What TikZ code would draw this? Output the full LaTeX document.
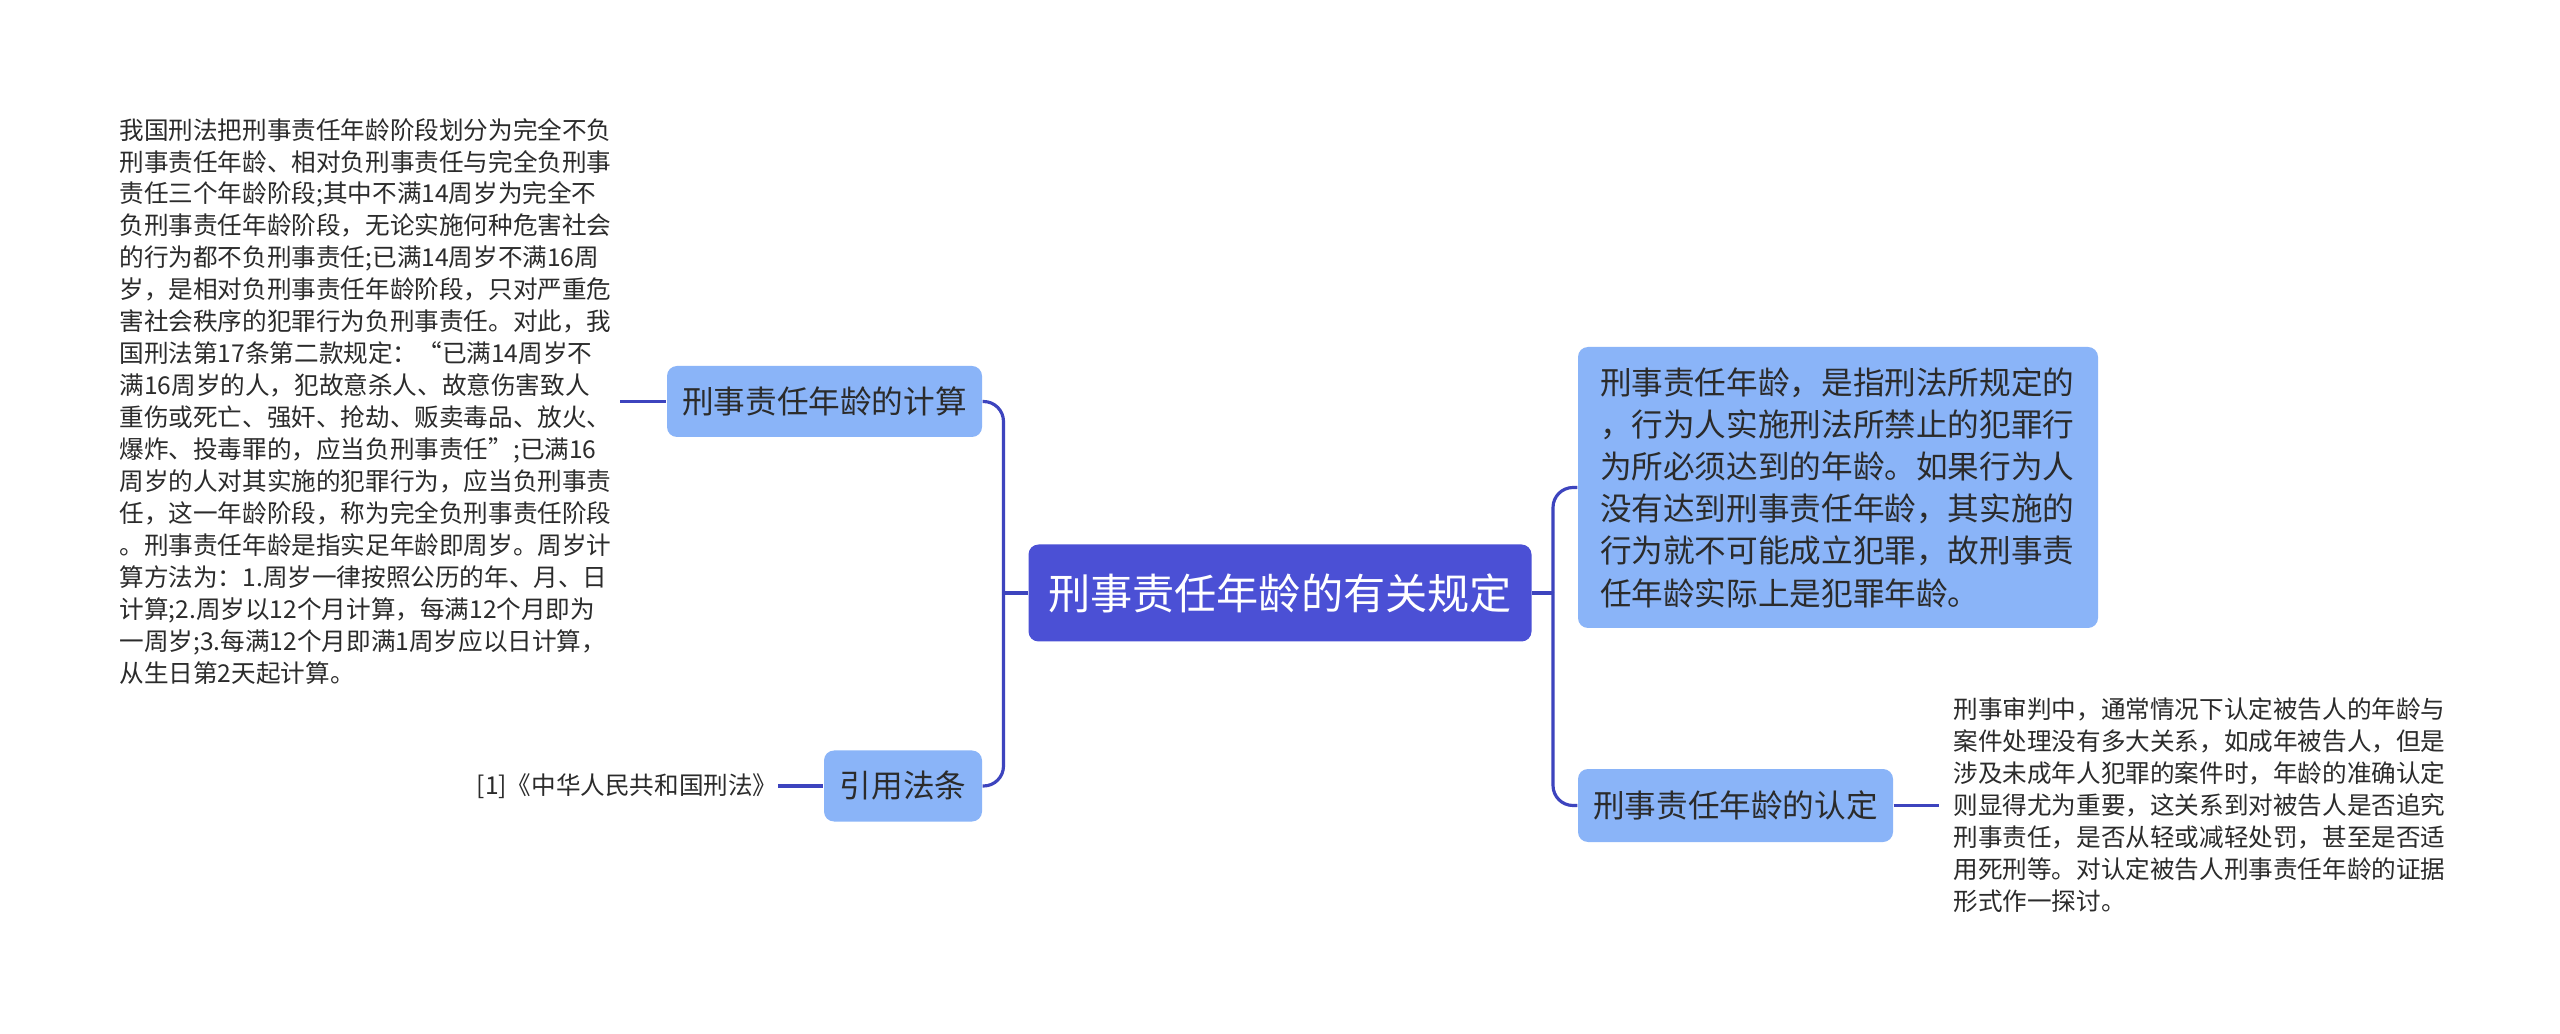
\documentclass[tikz,border=0pt]{standalone}
\usepackage{fontspec}
\setmainfont{Noto Sans CJK SC}
\usepackage{xcolor}
\usetikzlibrary{positioning}
\definecolor{rootblue}{HTML}{4B50D5}
\definecolor{subblue}{HTML}{8AB4F8}
\definecolor{linkblue}{HTML}{3D44BE}
\definecolor{txt}{HTML}{2B2B2B}

\begin{document}
\begin{tikzpicture}[
  rootbox/.style={fill=rootblue, text=white, rounded corners=0.1cm, font=\fontsize{12pt}{14pt}\selectfont, minimum width=5.03cm, minimum height=0.97cm, inner sep=0pt},
  subbox/.style={fill=subblue, text=txt, rounded corners=0.1cm, font=\fontsize{9pt}{12pt}\selectfont, minimum height=0.71cm, inner sep=0pt},
  note/.style={text=txt, align=left, font=\fontsize{7pt}{9.1pt}\selectfont, inner sep=0pt},
  link/.style={draw=linkblue, line width=0.9pt, rounded corners=0.2cm},
  node distance=0.45cm]
		\fill[white] (0,0) rectangle (25.6,10.33);
		\useasboundingbox (0,0) rectangle (25.6,10.33);
		% centre and the four branches
		\node[rootbox] (root) at (12.80,4.40) {刑事责任年龄的有关规定};
		\node[subbox, minimum width=3.15cm] (calc) at (8.245,6.315) {刑事责任年龄的计算};
		\node[subbox, minimum width=1.58cm] (cite) at (9.03,2.47) {引用法条};
		\node[subbox, align=left, text width=4.76cm, minimum width=5.20cm, minimum height=2.81cm, inner xsep=0.22cm] (def) at (18.38,5.455) {刑事责任年龄，是指刑法所规定的\\，行为人实施刑法所禁止的犯罪行\\为所必须达到的年龄。如果行为人\\没有达到刑事责任年龄，其实施的\\行为就不可能成立犯罪，故刑事责\\任年龄实际上是犯罪年龄。};
		\node[subbox, minimum width=3.15cm, minimum height=0.73cm] (ident) at (17.355,2.275) {刑事责任年龄的认定};
		% leaf texts
		\node[note, inner xsep=0.08cm, left=0.46cm of calc] (calctext) {我国刑法把刑事责任年龄阶段划分为完全不负\\刑事责任年龄、相对负刑事责任与完全负刑事\\责任三个年龄阶段;其中不满14周岁为完全不\\负刑事责任年龄阶段，无论实施何种危害社会\\的行为都不负刑事责任;已满14周岁不满16周\\岁，是相对负刑事责任年龄阶段，只对严重危\\害社会秩序的犯罪行为负刑事责任。对此，我\\国刑法第17条第二款规定：“已满14周岁不\\满16周岁的人，犯故意杀人、故意伤害致人\\重伤或死亡、强奸、抢劫、贩卖毒品、放火、\\爆炸、投毒罪的，应当负刑事责任”;已满16\\周岁的人对其实施的犯罪行为，应当负刑事责\\任，这一年龄阶段，称为完全负刑事责任阶段\\。刑事责任年龄是指实足年龄即周岁。周岁计\\算方法为：1.周岁一律按照公历的年、月、日\\计算;2.周岁以12个月计算，每满12个月即为\\一周岁;3.每满12个月即满1周岁应以日计算，\\从生日第2天起计算。};
		\node[note, left=0.45cm of cite] (citetext) {[1]《中华人民共和国刑法》};
		\node[note, inner xsep=0.14cm, right=0.45cm of ident] (identtext) {刑事审判中，通常情况下认定被告人的年龄与\\案件处理没有多大关系，如成年被告人，但是\\涉及未成年人犯罪的案件时，年龄的准确认定\\则显得尤为重要，这关系到对被告人是否追究\\刑事责任，是否从轻或减轻处罚，甚至是否适\\用死刑等。对认定被告人刑事责任年龄的证据\\形式作一探讨。};
		% connectors
		\coordinate (jl) at (10.035,4.40);
		\coordinate (jr) at (15.53,4.40);
		\draw[link] (jl) -- (root.west);
		\draw[link] (calc.east) -| (jl);
		\draw[link] (cite.east) -| (jl);
		\draw[link] (root.east) -- (jr);
		\draw[link] (def.west) -| (jr);
		\draw[link] (ident.west) -| (jr);
		\draw[link] (calctext) -- (calc);
		\draw[link] (citetext) -- (cite);
		\draw[link] (ident) -- (identtext);
\end{tikzpicture}
\end{document}
